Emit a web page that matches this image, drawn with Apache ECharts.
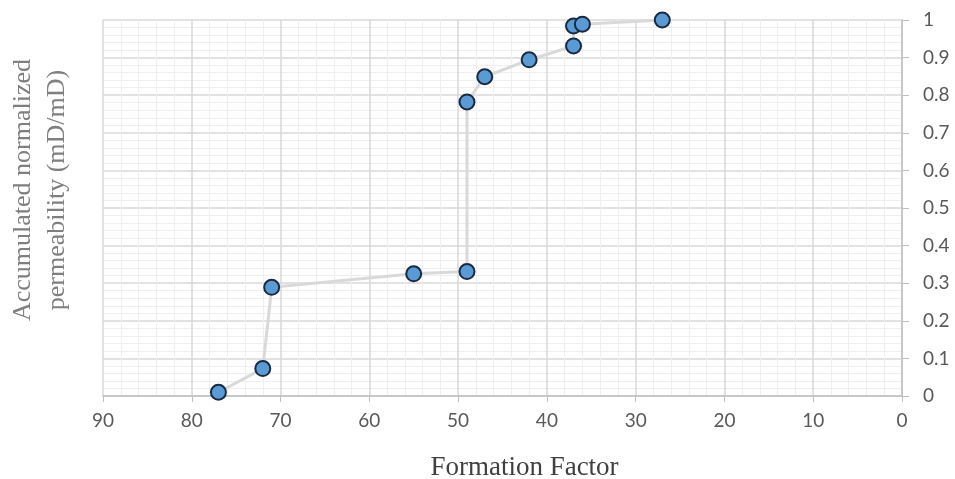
<!DOCTYPE html>
<html>
<head>
<meta charset="utf-8">
<script src="https://cdn.jsdelivr.net/npm/echarts@6/dist/echarts.min.js"></script>
<style>html,body{margin:0;padding:0;background:#fff}#c{width:955px;height:479px}</style>
</head>
<body>
<div id="c"></div>
<script>
const formationFactor = [77, 72, 71, 55, 49, 49, 47, 42, 37, 37, 36, 27];
const accumPerm = [0.01, 0.073, 0.289, 0.325, 0.331, 0.782, 0.849, 0.894, 0.931, 0.984, 0.989, 1.0];
const xTitle = 'Formation Factor';
const yTitle = 'Accumulated normalized\npermeability (mD/mD)';

const chart = echarts.init(document.getElementById('c'), null, {renderer: 'canvas'});
const labelFont = {color: '#595959', fontSize: 19, fontFamily: 'Lato, Open Sans, sans-serif'};
chart.setOption({
  animation: false,
  grid: {left: 103, right: 53, top: 20, bottom: 83, containLabel: false, outerBoundsMode: 'none'},
  xAxis: {
    type: 'value', min: 0, max: 90, interval: 10, inverse: true,
    name: xTitle, nameLocation: 'middle', nameGap: 58,
    nameTextStyle: {color: '#404040', fontSize: 27, fontFamily: 'Liberation Serif, DejaVu Serif, serif', padding: [0, 0, 0, 44]},
    axisLine: {show: true, lineStyle: {color: '#bfbfbf', width: 1.5}},
    axisTick: {show: true, length: 6, lineStyle: {color: '#bfbfbf'}},
    axisLabel: Object.assign({margin: 15}, labelFont),
    splitLine: {show: true, lineStyle: {color: '#d9d9d9', width: 1.5}},
    minorTick: {show: false, splitNumber: 5},
    minorSplitLine: {show: true, lineStyle: {color: '#efefef', width: 1}}
  },
  yAxis: {
    type: 'value', min: 0, max: 1, interval: 0.1, position: 'right',
    axisLine: {show: true, lineStyle: {color: '#bfbfbf', width: 1.5}},
    axisTick: {show: true, length: 7, lineStyle: {color: '#bfbfbf'}},
    axisLabel: Object.assign({margin: 21, formatter: v => String(Math.round(v * 10) / 10)}, labelFont),
    splitLine: {show: true, lineStyle: {color: '#d9d9d9', width: 1.5}},
    minorTick: {show: false, splitNumber: 5},
    minorSplitLine: {show: true, lineStyle: {color: '#efefef', width: 1}}
  },
  graphic: [{
    type: 'text',
    x: 40, y: 190,
    rotation: Math.PI / 2,
    style: {
      text: yTitle, fill: '#7f7f7f', fontSize: 26, lineHeight: 34,
      fontFamily: 'Liberation Serif, DejaVu Serif, serif',
      textAlign: 'center', textVerticalAlign: 'middle'
    }
  }],
  series: [{
    type: 'line',
    data: formationFactor.map((f, i) => [f, accumPerm[i]]),
    symbol: 'circle', symbolSize: 15,
    lineStyle: {color: '#d9d9d9', width: 3},
    itemStyle: {color: '#5b9bd5', borderColor: '#1a2a40', borderWidth: 2}
  }]
});
</script>
</body>
</html>
